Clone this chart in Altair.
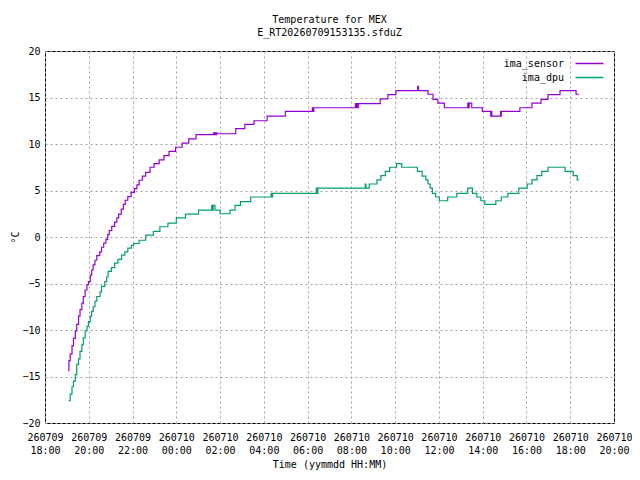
import altair as alt
import pandas as pd

D1 = "2026-07-09T"
D2 = "2026-07-10T"

sensor_time = [
    D1+"19:05", D1+"19:05:30", D1+"19:09", D1+"19:14", D1+"19:18", D1+"19:23", D1+"19:27",
    D1+"19:32", D1+"19:36", D1+"19:41", D1+"19:45", D1+"19:50", D1+"19:55", D1+"19:59",
    D1+"20:04", D1+"20:08", D1+"20:12", D1+"20:17", D1+"20:22", D1+"20:30", D1+"20:35",
    D1+"20:41", D1+"20:47", D1+"20:52", D1+"20:56", D1+"21:03", D1+"21:11", D1+"21:17",
    D1+"21:22", D1+"21:29", D1+"21:35", D1+"21:40", D1+"21:47", D1+"21:56", D1+"22:05",
    D1+"22:12", D1+"22:18", D1+"22:27", D1+"22:36", D1+"22:48", D1+"22:59", D1+"23:13",
    D1+"23:26", D1+"23:40", D1+"23:58", D2+"00:16", D2+"00:34", D2+"00:54", D2+"01:42",
    D2+"01:44", D2+"01:46", D2+"01:48", D2+"01:50", D2+"01:52", D2+"02:43", D2+"03:08",
    D2+"03:33", D2+"04:09", D2+"04:59", D2+"06:13", D2+"06:15", D2+"06:17", D2+"08:11",
    D2+"08:13", D2+"08:15", D2+"08:17", D2+"08:19", D2+"09:19", D2+"09:40", D2+"10:02",
    D2+"11:02", D2+"11:04", D2+"11:30", D2+"11:44", D2+"11:57", D2+"12:15", D2+"13:19",
    D2+"13:21", D2+"13:23", D2+"13:30", D2+"13:59", D2+"14:22", D2+"14:24", D2+"14:25",
    D2+"14:49", D2+"14:50", D2+"14:51", D2+"15:42", D2+"16:15", D2+"16:40", D2+"16:59",
    D2+"17:32", D2+"18:16", D2+"18:24",
]
sensor_temp = [
    -14.4, -13.3, -12.6, -11.7, -10.9, -10.1, -9.4,
    -8.5, -7.8, -7.1, -6.4, -5.7, -5.15, -4.8,
    -4.1, -3.55, -3.0, -2.5, -2.0, -1.6, -1.1,
    -0.65, -0.25, 0.25, 0.7, 1.15, 1.6, 2.05,
    2.45, 3.0, 3.5, 3.95, 4.35, 4.8, 5.2,
    5.6, 6.1, 6.55, 6.95, 7.5, 7.9, 8.3,
    8.75, 9.2, 9.65, 10.1, 10.55, 11.0, 11.2,
    11.0, 11.2, 11.0, 11.2, 11.1, 11.65, 12.1,
    12.5, 13.0, 13.5, 13.9, 13.5, 13.9, 14.35,
    13.9, 14.35, 13.9, 14.35, 14.85, 15.3, 15.75,
    16.2, 15.75, 15.35, 14.8, 14.4, 13.9, 14.4,
    13.9, 14.4, 13.9, 13.5, 13.0, 13.5, 13.0,
    13.5, 13.0, 13.5, 13.9, 14.4, 14.8, 15.3,
    15.75, 15.35, 15.35,
]

dpu_time = [
    D1+"19:05", D1+"19:09", D1+"19:14", D1+"19:18", D1+"19:23", D1+"19:27", D1+"19:32",
    D1+"19:36", D1+"19:41", D1+"19:45", D1+"19:50", D1+"19:55", D1+"19:59", D1+"20:04",
    D1+"20:08", D1+"20:12", D1+"20:17", D1+"20:22", D1+"20:31", D1+"20:35", D1+"20:44",
    D1+"20:49", D1+"20:53", D1+"21:02", D1+"21:11", D1+"21:20", D1+"21:30", D1+"21:39",
    D1+"21:47", D1+"21:57", D1+"22:03", D1+"22:18", D1+"22:36", D1+"22:57", D1+"23:15",
    D1+"23:37", D2+"00:00", D2+"00:25", D2+"01:01", D2+"01:37", D2+"01:39", D2+"01:41",
    D2+"01:46", D2+"02:00", D2+"02:27", D2+"02:41", D2+"02:56", D2+"03:24", D2+"04:20",
    D2+"04:22", D2+"04:24", D2+"06:24", D2+"06:26", D2+"06:28", D2+"08:38", D2+"08:40",
    D2+"08:49", D2+"09:10", D2+"09:21", D2+"09:33", D2+"09:45", D2+"10:04", D2+"10:18",
    D2+"11:01", D2+"11:14", D2+"11:24", D2+"11:30", D2+"11:36", D2+"11:42", D2+"11:51",
    D2+"12:01", D2+"12:24", D2+"12:49", D2+"13:19", D2+"13:32", D2+"13:44", D2+"13:55",
    D2+"14:06", D2+"14:36", D2+"14:51", D2+"15:09", D2+"15:39", D2+"16:02", D2+"16:15",
    D2+"16:29", D2+"16:42", D2+"16:59", D2+"17:46", D2+"18:08", D2+"18:19", D2+"18:24",
]
dpu_temp = [
    -17.6, -16.9, -16.1, -15.5, -14.8, -13.7, -13.1,
    -12.3, -11.6, -10.85, -10.1, -9.6, -9.1, -8.5,
    -8.0, -7.5, -6.9, -6.4, -5.9, -5.3, -4.8,
    -4.3, -3.7, -3.3, -2.8, -2.4, -1.95, -1.6,
    -1.2, -0.9, -0.7, -0.35, 0.2, 0.6, 1.1,
    1.5, 2.05, 2.45, 2.9, 3.4, 2.9, 3.4,
    2.9, 2.5, 2.9, 3.4, 3.8, 4.3, 4.7,
    4.3, 4.7, 5.25, 4.7, 5.25, 5.7, 5.25,
    5.7, 6.15, 6.6, 7.05, 7.5, 7.9, 7.5,
    7.05, 6.55, 6.15, 5.7, 5.25, 4.7, 4.3,
    3.9, 4.3, 4.7, 5.25, 4.7, 4.3, 3.9,
    3.5, 3.9, 4.3, 4.7, 5.25, 5.7, 6.15,
    6.6, 7.05, 7.5, 7.05, 6.6, 6.15, 6.15,
]

series_names = ["ima_sensor", "ima_dpu"]
series_colors = ["#9400d3", "#009e73"]
x_ticks = [alt.DateTime(year=2026, month=7, date=9 + (18 + 2 * i) // 24,
                        hours=(18 + 2 * i) % 24) for i in range(14)]
y_ticks = [-20, -15, -10, -5, 0, 5, 10, 15, 20]

df = pd.concat([
    pd.DataFrame({"time": sensor_time, "temp": sensor_temp, "series": series_names[0]}),
    pd.DataFrame({"time": dpu_time, "temp": dpu_temp, "series": series_names[1]}),
])

FONT = "DejaVu Sans Mono"

chart = alt.Chart(df).mark_line(interpolate="step-after", strokeWidth=1.2).encode(
    x=alt.X("time:T",
            scale=alt.Scale(domain=[x_ticks[0], x_ticks[-1]]),
            axis=alt.Axis(values=x_ticks, title="Time (yymmdd HH:MM)",
                          labelExpr="[timeFormat(datum.value, '%y%m%d'), timeFormat(datum.value, '%H:%M')]",
                          labelLineHeight=13, labelPadding=9, titlePadding=4,
                          grid=True, ticks=False, domain=False, labelFlush=False,
                          labelOverlap=False)),
    y=alt.Y("temp:Q",
            scale=alt.Scale(domain=[-20, 20], nice=False),
            axis=alt.Axis(values=y_ticks, title="°C", titlePadding=1,
                          labelPadding=5, grid=True, ticks=False, domain=False)),
    color=alt.Color("series:N",
                    scale=alt.Scale(domain=series_names, range=series_colors),
                    legend=alt.Legend(title=None, orient="top-right", offset=7,
                                      symbolType="M-3,0H3", symbolSize=87,
                                      symbolStrokeWidth=1.5, labelAlign="right",
                                      labelOffset={"expr": "-31"}, rowPadding=3)),
).properties(
    width=569, height=372,
    title=alt.TitleParams(["Temperature for MEX", "E_RT20260709153135.sfduZ"],
                          font=FONT, fontSize=10, fontWeight="normal",
                          lineHeight=13, offset=8, anchor="middle"),
    autosize=alt.AutoSizeParams(type="none"),
    padding={"left": 37, "top": 43, "right": 18, "bottom": 49},
).configure_view(
    stroke="black", strokeWidth=1
).configure_axis(
    labelFont=FONT, titleFont=FONT, labelFontSize=10, titleFontSize=10,
    titleFontWeight="normal", labelColor="black", titleColor="black",
    gridColor="#a0a0a0", gridDash=[2, 3], gridWidth=1, gridOpacity=1
).configure_legend(
    labelFont=FONT, labelFontSize=10, labelColor="black"
)

chart.save("out.html", embed_options={"renderer": "svg", "actions": False})
